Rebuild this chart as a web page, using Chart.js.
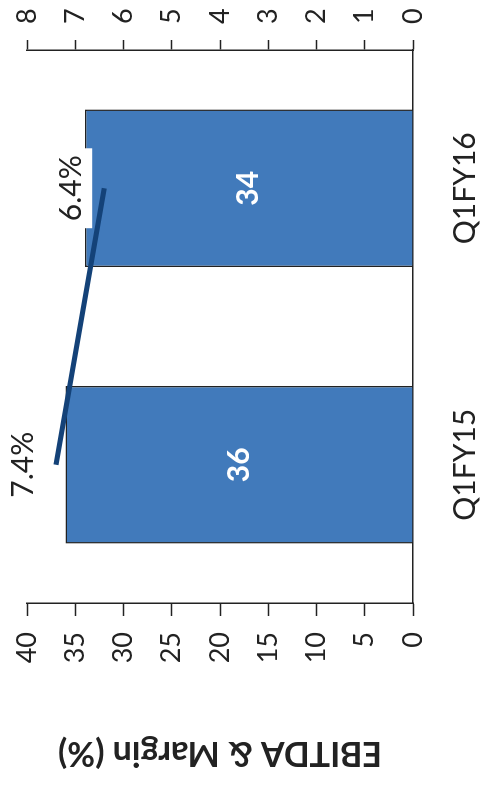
<!DOCTYPE html>
<html>
<head>
<meta charset="utf-8">
<script src="https://cdn.jsdelivr.net/npm/chart.js@4/dist/chart.umd.min.js"></script>
<style>
  html, body { margin: 0; padding: 0; background: #fff; overflow: hidden; }
  body { width: 484px; height: 790px; position: relative; }
  /* the chart is drawn upright and then turned a quarter turn counter-clockwise */
  #wrap {
    position: absolute; left: 0; top: 0;
    width: 790px; height: 484px;
    transform-origin: 0 0;
    transform: translate(0, 790px) rotate(-90deg);
  }
</style>
</head>
<body>
<div id="wrap"><canvas id="myChart" width="790" height="484"></canvas></div>
<script>
// Chart data
const quarters = ['Q1FY15', 'Q1FY16'];
const ebitda = [36, 34];        // left axis
const marginPct = [7.4, 6.4];   // right axis, %

const ink = '#222222';
const barBlue = '#417abb';
const lineNavy = '#144278';

// Draws the numbers on bars and the % labels above the margin line
const valueLabels = {
  id: 'valueLabels',
  afterDatasetsDraw(chart) {
    const ctx = chart.ctx;
    ctx.save();
    ctx.textAlign = 'center';
    ctx.textBaseline = 'middle';

    chart.getDatasetMeta(0).data.forEach((bar, i) => {
      ctx.font = 'bold 30px Lato';
      ctx.fillStyle = '#ffffff';
      ctx.fillText(String(ebitda[i]), bar.x, (bar.y + bar.base) / 2);
    });

    chart.getDatasetMeta(1).data.forEach((pt, i) => {
      const txt = marginPct[i].toFixed(1) + '%';
      ctx.font = '30px Lato';
      const w = ctx.measureText(txt).width;
      const y = pt.y - 33;
      ctx.fillStyle = '#ffffff';
      ctx.fillRect(pt.x - w / 2 - 7, y - 21, w + 14, 42);
      ctx.fillStyle = ink;
      ctx.fillText(txt, pt.x, y);
    });
    ctx.restore();
  }
};

function build() {
  const ctx = document.getElementById('myChart').getContext('2d');
  new Chart(ctx, {
    data: {
      labels: quarters,
      datasets: [{
        type: 'bar',
        data: ebitda,
        yAxisID: 'y',
        backgroundColor: barBlue,
        borderColor: ink,
        borderWidth: 1.5,
        categoryPercentage: 1,
        barPercentage: 0.57,
        order: 1
      }, {
        type: 'line',
        data: marginPct,
        yAxisID: 'y1',
        borderColor: lineNavy,
        borderWidth: 5,
        pointRadius: 0,
        fill: false,
        order: 0
      }]
    },
    options: {
      responsive: false,
      animation: false,
      devicePixelRatio: 1,
      layout: { padding: { top: 0, bottom: 0, left: 0, right: 9 } },
      plugins: {
        legend: { display: false },
        tooltip: { enabled: false }
      },
      scales: {
        x: {
          grid: { display: true, drawOnChartArea: false, drawTicks: false },
          border: { display: true, color: ink, width: 1.5 },
          ticks: { font: { family: 'Lato', size: 30 }, color: ink, padding: 34 },
          afterFit: (s) => { s.height = 71; }
        },
        y: {
          position: 'left',
          min: 0,
          max: 40,
          ticks: { stepSize: 5, font: { family: 'Lato', size: 27 }, color: ink, padding: 16 },
          grid: { drawOnChartArea: false, tickLength: 13, tickColor: ink, tickWidth: 1.5 },
          border: { color: ink, width: 1.5 },
          title: {
            display: true,
            text: 'EBITDA & Margin (%)',
            font: { family: 'Lato', size: 34, weight: 'bold' },
            color: ink,
            padding: { top: 17, bottom: 70 }
          },
          afterFit: (s) => { s.width = 187; s.paddingTop = 27; }
        },
        y1: {
          position: 'right',
          min: 0,
          max: 8,
          ticks: { stepSize: 1, font: { family: 'Lato', size: 27 }, color: ink, padding: 16 },
          grid: { drawOnChartArea: false, tickLength: 10, tickColor: ink, tickWidth: 1.5 },
          border: { color: ink, width: 1.5 },
          afterFit: (s) => { s.width = 41; s.paddingTop = 27; }
        }
      }
    },
    plugins: [valueLabels]
  });
}

Promise.all([
  document.fonts.load('30px Lato'),
  document.fonts.load('bold 30px Lato')
]).then(build, build);
</script>
</body>
</html>
